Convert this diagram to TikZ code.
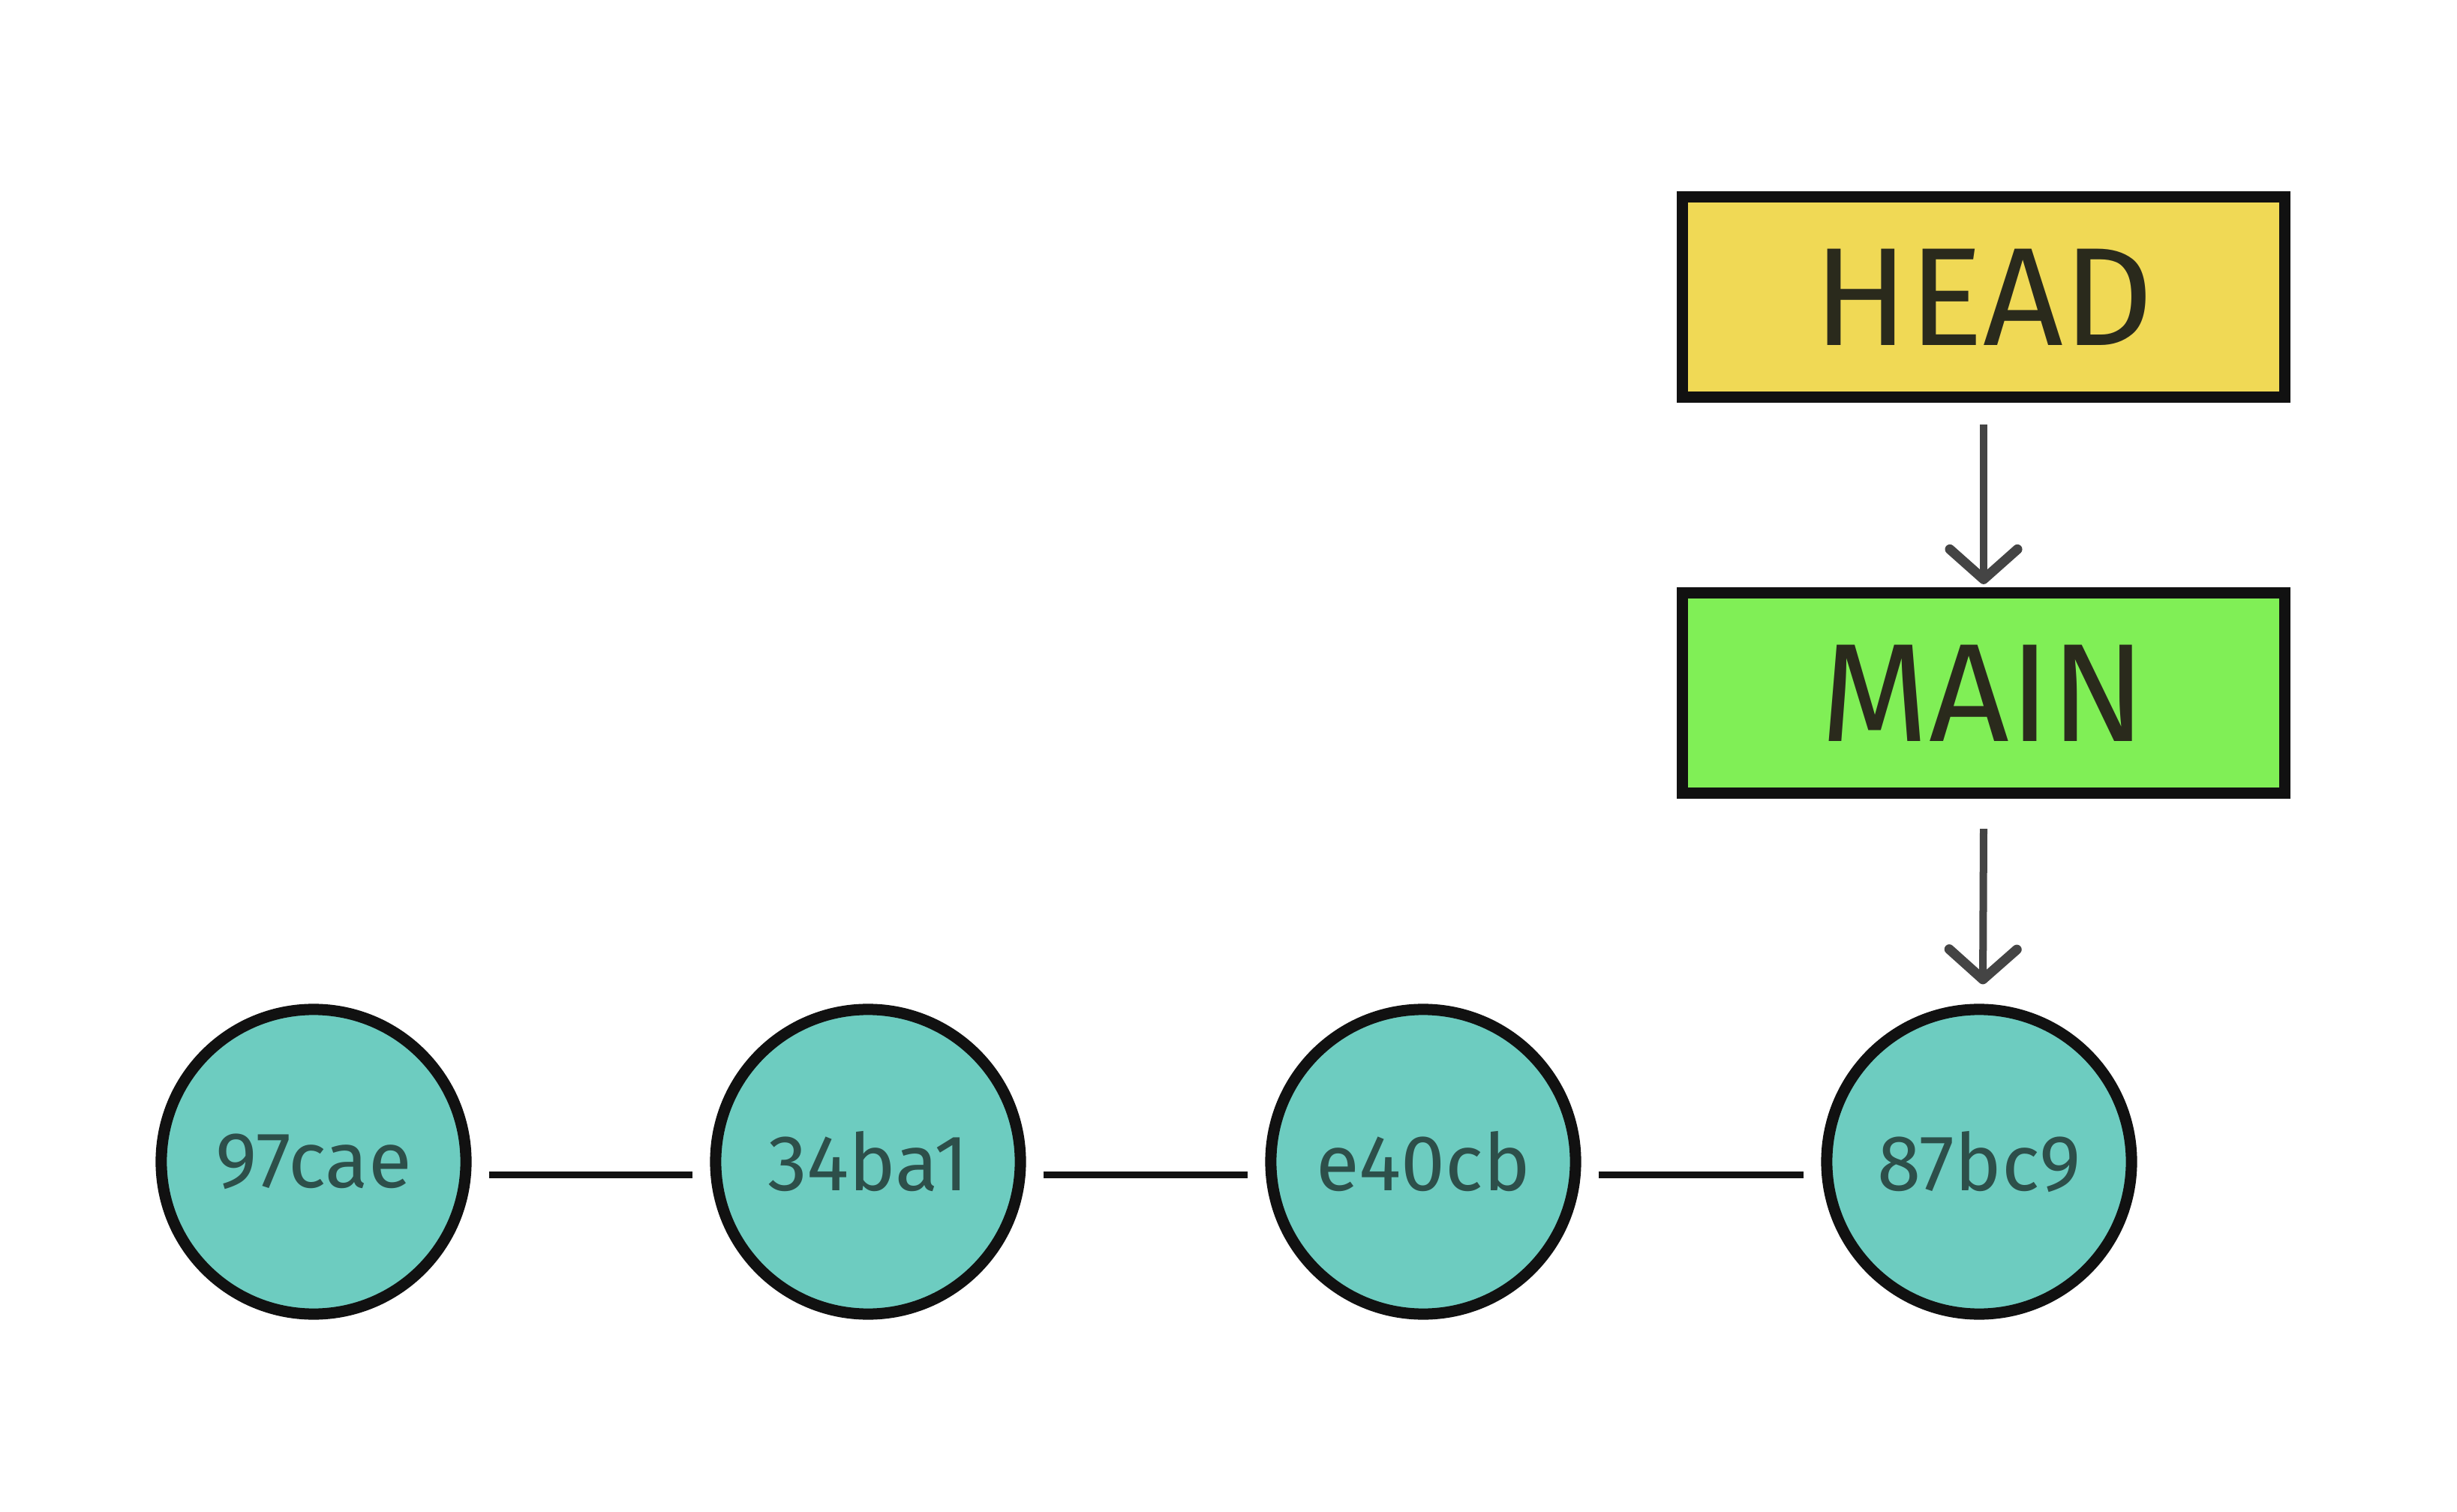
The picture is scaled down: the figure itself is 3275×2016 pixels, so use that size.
\documentclass[tikz,border=0pt]{standalone}
\usepackage{fontspec}
\setmainfont{Fira Sans}
\usetikzlibrary{arrows.meta}
\definecolor{commitfill}{HTML}{6DCCC0}
\definecolor{headfill}{HTML}{F0D955}
\definecolor{mainfill}{HTML}{80EF56}
\definecolor{edge}{HTML}{111111}
\definecolor{arrowgray}{HTML}{444444}
\definecolor{commitink}{HTML}{2D4F4A}
\definecolor{refink}{HTML}{2A2A1C}
\tikzset{
  commit/.style={circle, draw=edge, line width=0.15cm, fill=commitfill,
    minimum size=4.06cm, inner sep=0pt, text=commitink,
    font=\fontsize{30}{32}\selectfont},
  refbox/.style={rectangle, draw=edge, line width=0.15cm,
    minimum width=8.02cm, minimum height=2.67cm, inner sep=0pt,
    text=refink, font=\fontsize{53}{55}\selectfont},
  link/.style={draw=edge, line width=0.09cm},
  pointer/.style={draw=arrowgray, line width=0.1cm,
    -{Straight Barb[length=0.40cm, width=0.90cm, round, line width=0.13cm]}},
}
\begin{document}
\begin{tikzpicture}[x=0.01cm, y=-0.01cm]
\useasboundingbox (0,0) rectangle (3275,2016);
\node[commit] (c1) at (418,1549) {97cae};
\node[commit] (c2) at (1157,1549) {34ba1};
\node[commit] (c3) at (1897,1549) {e40cb};
\node[commit] (c4) at (2638,1549) {87bc9};
\node[refbox, fill=headfill] (head) at (2644,396) {HEAD};
\node[refbox, fill=mainfill] (main) at (2644,924) {MAIN};
\draw[link] ([shift={(23,17)}]c1.east) -- ([shift={(-23,17)}]c2.west);
\draw[link] ([shift={(23,17)}]c2.east) -- ([shift={(-23,17)}]c3.west);
\draw[link] ([shift={(23,17)}]c3.east) -- ([shift={(-23,17)}]c4.west);
\draw[pointer] ([yshift=-0.29cm]head.south) -- ([yshift=0.04cm]main.north);
\draw[pointer] ([yshift=-0.40cm]main.south) -- ([shift={(5,-26)}]c4.north);
\end{tikzpicture}
\end{document}
